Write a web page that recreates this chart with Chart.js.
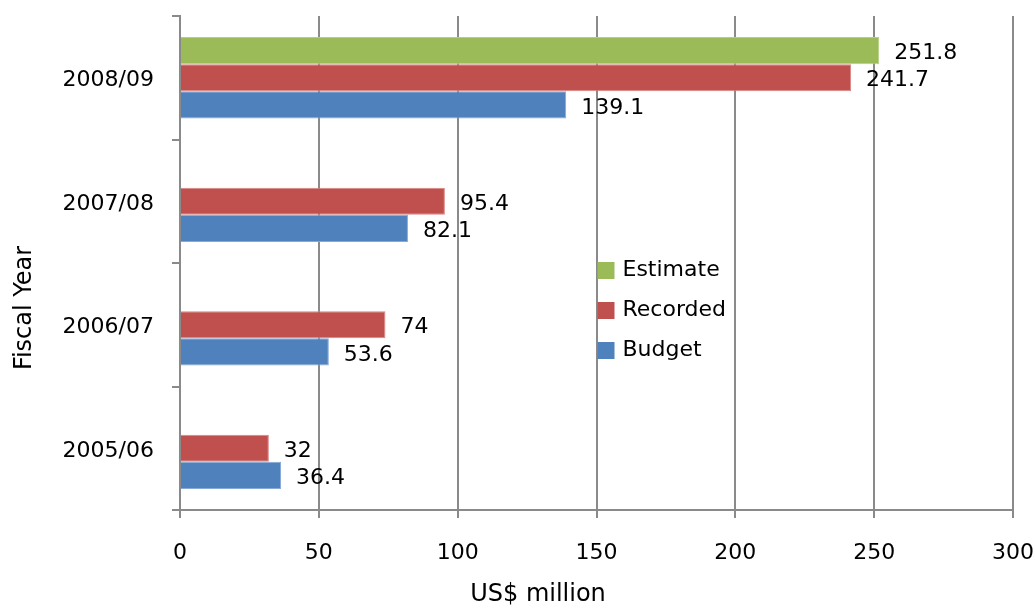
<!DOCTYPE html>
<html>
<head>
<meta charset="utf-8">
<script src="https://cdn.jsdelivr.net/npm/chart.js@4.4.0/dist/chart.umd.min.js"></script>
<style>
  html, body { margin: 0; padding: 0; background: #fff; }
  #wrap { width: 1035px; height: 607px; }
</style>
</head>
<body>
<div id="wrap"><canvas id="chart" width="1035" height="607"></canvas></div>
<script>
const years = ['2008/09', '2007/08', '2006/07', '2005/06'];
const estimate = [251.8, null, null, null];
const recorded = [241.7, 95.4, 74, 32];
const budget = [139.1, 82.1, 53.6, 36.4];
const xTicks = [0, 50, 100, 150, 200, 250, 300];
const xTitle = 'US$ million';
const yTitle = 'Fiscal Year';

const FONT = 'DejaVu Sans';
const GRID = '#8a8a8a';

// etiquetas de valor ao lado de cada barra
const valueLabels = {
    id: 'valueLabels',
    afterDatasetsDraw(chart) {
        const ctx = chart.ctx;
        ctx.save();
        ctx.font = '22px "' + FONT + '"';
        ctx.fillStyle = '#000';
        ctx.textAlign = 'left';
        ctx.textBaseline = 'middle';
        chart.data.datasets.forEach((ds, i) => {
            const meta = chart.getDatasetMeta(i);
            meta.data.forEach((bar, j) => {
                const v = ds.data[j];
                if (v === null) return;
                ctx.fillText(String(v), bar.x + 15, bar.y + 3);
            });
        });
        ctx.restore();
    }
};

// legenda dentro da área do gráfico + títulos dos eixos
const innerLegend = {
    id: 'innerLegend',
    afterDraw(chart) {
        const ctx = chart.ctx;
        const x = chart.scales.x.getPixelForValue(150) + 1;
        let y = 270;
        ctx.save();
        ctx.font = '22px "' + FONT + '"';
        ctx.textBaseline = 'middle';
        chart.data.datasets.forEach(ds => {
            ctx.fillStyle = ds.backgroundColor;
            ctx.fillRect(x, y - 8, 17, 17);
            ctx.fillStyle = '#000';
            ctx.fillText(ds.label, x + 25, y);
            y += 40;
        });

        ctx.font = '24px "' + FONT + '"';
        ctx.textAlign = 'center';
        ctx.fillText(xTitle, 538, 595);
        ctx.translate(25, 308);
        ctx.rotate(-Math.PI / 2);
        ctx.fillText(yTitle, 0, 0);
        ctx.restore();
    }
};

new Chart(document.getElementById('chart'), {
    type: 'bar',
    data: {
        labels: years,
        datasets: [
            { label: 'Estimate', data: estimate, backgroundColor: '#9BBB59', borderColor: '#b4cf80', borderWidth: 1 },
            { label: 'Recorded', data: recorded, backgroundColor: '#C0504D', borderColor: '#d98583', borderWidth: 1 },
            { label: 'Budget', data: budget, backgroundColor: '#4F81BD', borderColor: '#86a9d6', borderWidth: 1 }
        ]
    },
    options: {
        indexAxis: 'y',
        responsive: false,
        animation: false,
        layout: { padding: { top: 16, right: 22, left: 0, bottom: 0 } },
        datasets: { bar: { categoryPercentage: 0.66, barPercentage: 1 } },
        plugins: { legend: { display: false }, tooltip: { enabled: false } },
        scales: {
            x: {
                min: 0, max: 300,
                afterBuildTicks: s => { s.ticks = xTicks.map(v => ({ value: v })); },
                afterFit: s => { s.height = 97; s.paddingLeft = 0; s.paddingRight = 0; },
                grid: { color: GRID, lineWidth: 2, tickLength: 8, tickColor: GRID },
                border: { color: GRID, width: 2 },
                ticks: { color: '#000', font: { family: FONT, size: 22 }, padding: 22, maxRotation: 0 }
            },
            y: {
                afterFit: s => { s.width = 180; s.paddingTop = 0; s.paddingBottom = 0; },
                grid: { drawOnChartArea: false, color: GRID, lineWidth: 2, tickLength: 8, tickColor: GRID, offset: true },
                border: { color: GRID, width: 2 },
                ticks: { color: '#000', font: { family: FONT, size: 22 }, padding: 18, labelOffset: 3 }
            }
        }
    },
    plugins: [valueLabels, innerLegend]
});
</script>
</body>
</html>
